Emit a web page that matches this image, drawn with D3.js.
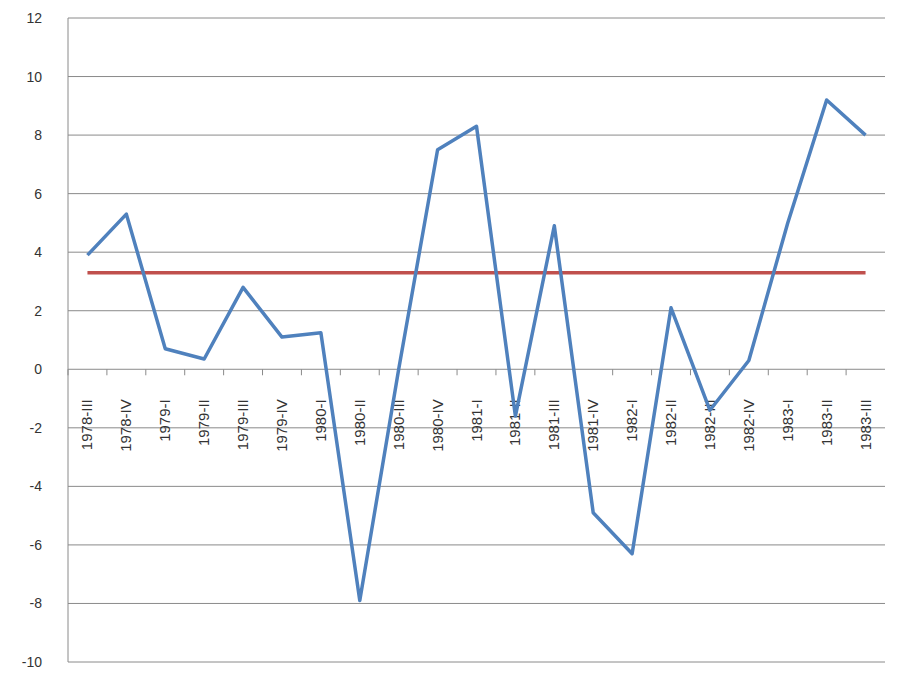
<!DOCTYPE html>
<html><head><meta charset="utf-8">
<script src="https://cdn.jsdelivr.net/npm/d3@7"></script>
<style>body{margin:0;background:#fff}</style>
</head><body><div id="chart"></div>
<script>
// Quarterly values and their mean line
const quarters = ["1978-III","1978-IV","1979-I","1979-II","1979-III","1979-IV","1980-I","1980-II","1980-III","1980-IV",
  "1981-I","1981-II","1981-III","1981-IV","1982-I","1982-II","1982-III","1982-IV","1983-I","1983-II","1983-III"];
const growth = [3.9,5.3,0.7,0.35,2.8,1.1,1.25,-7.9,0,7.5,8.3,-1.6,4.9,-4.9,-6.3,2.1,-1.4,0.3,5.0,9.2,8.0];
const average = quarters.map(() => 3.3);
const yTicks = [-10,-8,-6,-4,-2,0,2,4,6,8,10,12];

const W = 900, H = 675;
const margin = { top: 18, right: 15, bottom: 13, left: 68 };

const svg = d3.select("#chart").append("svg").attr("width", W).attr("height", H);

const x = d3.scaleBand().domain(quarters).range([margin.left, W - margin.right]);
const y = d3.scaleLinear().domain([-10, 12]).range([H - margin.bottom, margin.top]);

// Gridlines
svg.append("g").selectAll("line").data(yTicks).join("line")
  .attr("x1", margin.left).attr("x2", W - margin.right)
  .attr("y1", d => y(d)).attr("y2", d => y(d))
  .attr("stroke", "#8a8a8a").attr("stroke-width", 1);

// Left axis
svg.append("line").attr("x1", margin.left).attr("x2", margin.left)
  .attr("y1", y(12)).attr("y2", y(-10)).attr("stroke", "#8a8a8a");
svg.append("g").selectAll("text").data(yTicks).join("text")
  .attr("x", margin.left - 26).attr("y", d => y(d) + 5)
  .attr("text-anchor", "end").attr("font-family", "Liberation Sans, Arial").attr("font-size", 14)
  .attr("fill", "#333").text(d => d);

// Category ticks on zero line
svg.append("g").selectAll("line").data(quarters).join("line")
  .attr("x1", d => x(d)).attr("x2", d => x(d))
  .attr("y1", y(0)).attr("y2", y(0) + 6).attr("stroke", "#8a8a8a");

// Category labels (rotated)
svg.append("g").selectAll("text").data(quarters).join("text")
  .attr("transform", d => `translate(${x(d) + x.bandwidth() / 2 + 5},${y(0) + 30}) rotate(-90)`)
  .attr("text-anchor", "end").attr("font-family", "Liberation Sans, Arial").attr("font-size", 15)
  .attr("fill", "#333").text(d => d);

const line = d3.line().x((d, i) => x(quarters[i]) + x.bandwidth() / 2).y(d => y(d));

svg.append("path").datum(average).attr("d", line)
  .attr("fill", "none").attr("stroke", "#c0504d").attr("stroke-width", 3.5);
svg.append("path").datum(growth).attr("d", line)
  .attr("fill", "none").attr("stroke", "#4f81bd").attr("stroke-width", 3.5)
  .attr("stroke-linejoin", "round");
</script></body></html>
